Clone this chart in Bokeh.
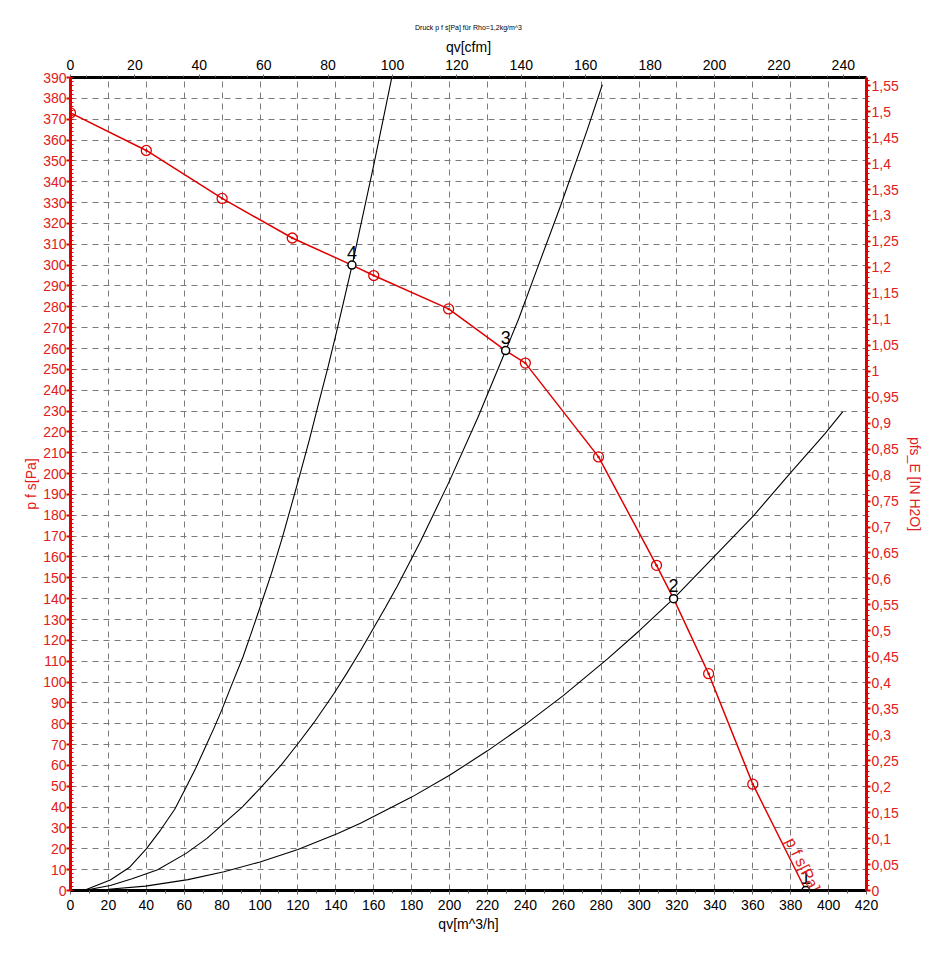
from bokeh.plotting import figure
from bokeh.models import Range1d, LinearAxis, FixedTicker, CustomJSTickFormatter
from bokeh.core.properties import value
from bokeh.embed import file_html
from bokeh.resources import INLINE

FONT = "Liberation Sans"
RED = "#e00000"
RED_TXT = "#e02020"

PA_PER_INH2O = 249.089
M3H_PER_CFM = 1.699

# fan curve p_fs [Pa] over qv [m^3/h]
fan_q = [0, 40, 80, 117, 148.5, 160, 199.5, 229.6, 240, 278.6, 309.2, 318.2, 336.7, 360, 388]
fan_p = [373, 355, 332, 313, 300, 295, 279, 259, 253, 208, 156, 140, 104, 51, 0]
# measured points (red circles)
meas_q = [0, 40, 80, 117, 160, 199.5, 240, 278.6, 309.2, 336.7, 360]
meas_p = [373, 355, 332, 313, 295, 279, 253, 208, 156, 104, 51]
# operating points
op_q = [388, 318.2, 229.6, 148.5]
op_p = [0, 140, 259, 300]
op_labels = ["1", "2", "3", "4"]

# system curves
sys4_q = [7, 21, 31, 40, 47.5, 55, 61, 66, 71, 76, 80, 85, 91, 95, 101, 106, 112, 120, 126, 131, 136, 140, 144, 148.6, 155, 160, 165, 169.4]
sys4_p = [0, 5, 11, 20, 29, 39, 49.5, 58.5, 68.5, 78.5, 87, 98.5, 112, 122.5, 138.5, 152, 170, 196, 216, 234, 251.5, 266.5, 282, 300, 327, 348, 370, 389.5]
sys3_q = [7, 21, 32.5, 46, 61, 72, 80, 90.6, 100, 111, 120.5, 128.4, 139, 146, 153, 166, 172.4, 184.7, 200, 215, 229.6, 236.6, 244.5, 258.6, 272.7, 280.6]
sys3_p = [0, 2.4, 5.6, 10, 17.8, 25, 31.5, 40, 49, 60, 71, 80.5, 94.5, 104.5, 115, 135.5, 146, 167.5, 196.5, 227, 259, 274.5, 294, 328.5, 365, 386.5]
sys2_q = [7, 20, 39.6, 62, 81, 100, 120, 141, 153, 180, 200, 220, 240, 260, 283.2, 300, 318.2, 339.5, 360.6, 380, 398, 407.4]
sys2_p = [0, 0.6, 2.1, 5.2, 9, 13.7, 19.7, 27.3, 32.3, 44.8, 55.3, 67, 79.7, 93.5, 111, 124.5, 140, 160, 180, 200.5, 219, 229.6]

pa_ticks = list(range(0, 391, 10))
pa_minor = list(range(0, 391, 2))
q_ticks = list(range(0, 421, 20))
q_minor = list(range(0, 421, 10))
cfm_ticks = list(range(0, 241, 20))
cfm_minor = list(range(0, 246, 5))
inh2o_ticks = [round(i * 0.05, 2) for i in range(32)]
inh2o_minor = [round(i * 0.01, 2) for i in range(157)]

p = figure(width=930, height=950, x_range=Range1d(0, 420), y_range=Range1d(0, 390),
           output_backend="svg", toolbar_location=None,
           min_border_left=70, min_border_right=64, min_border_top=77, min_border_bottom=60)
p.outline_line_color = None
p.background_fill_color = "white"

p.title.text = "Druck p f s[Pa] für Rho=1,2kg/m^3"
p.title.align = "center"
p.title.text_font = FONT
p.title.text_font_size = "7px"
p.title.text_font_style = "normal"
p.title.text_color = "black"

p.extra_x_ranges = {"cfm": Range1d(0, 420 / M3H_PER_CFM)}
p.extra_y_ranges = {"inh2o": Range1d(0, 390 / PA_PER_INH2O)}

def style_axis(ax, line_color, label_color, tick_color):
    ax.axis_line_color = line_color
    ax.axis_line_width = 3
    ax.major_tick_line_color = tick_color
    ax.minor_tick_line_color = tick_color
    ax.major_label_text_color = label_color
    ax.major_label_text_font = FONT
    ax.major_label_text_font_size = "14px"
    ax.axis_label_text_font = FONT
    ax.axis_label_text_font_size = "14px"
    ax.axis_label_text_font_style = "normal"
    ax.axis_label_text_color = label_color

# bottom axis
xb = p.xaxis[0]
xb.ticker = FixedTicker(ticks=q_ticks, minor_ticks=q_minor)
xb.axis_label = "qv[m^3/h]"
style_axis(xb, "black", "black", "#606060")
xb.major_tick_out = 4
xb.major_tick_in = 0
xb.minor_tick_out = 3
xb.minor_tick_in = 0
xb.major_label_standoff = 5
xb.axis_label_standoff = 3

# left axis
yl = p.yaxis[0]
yl.ticker = FixedTicker(ticks=pa_ticks, minor_ticks=pa_minor)
yl.axis_label = "p f s[Pa]"
style_axis(yl, RED, RED_TXT, RED)
yl.major_tick_out = 4
yl.major_tick_in = 0
yl.major_tick_line_width = 2
yl.minor_tick_out = 0
yl.minor_tick_in = 3
yl.major_label_standoff = 0
yl.axis_label_standoff = 1

# top axis
xt = LinearAxis(x_range_name="cfm", ticker=FixedTicker(ticks=cfm_ticks, minor_ticks=cfm_minor),
                axis_label="qv[cfm]")
style_axis(xt, "black", "black", "#606060")
xt.major_tick_out = 3
xt.major_tick_in = 0
xt.minor_tick_out = 2
xt.minor_tick_in = 0
xt.major_label_standoff = 5
xt.axis_label_standoff = 2
p.add_layout(xt, "above")

# right axis
yr = LinearAxis(y_range_name="inh2o", ticker=FixedTicker(ticks=inh2o_ticks, minor_ticks=inh2o_minor),
                axis_label="pfs_E [IN H2O]",
                formatter=CustomJSTickFormatter(code="return (Math.round(tick*100)/100).toString().replace('.', ',');"))
style_axis(yr, RED, RED_TXT, RED)
yr.major_tick_out = 4
yr.major_tick_in = 0
yr.major_tick_line_width = 2
yr.minor_tick_out = 3
yr.minor_tick_in = 0
yr.major_label_standoff = 1
yr.axis_label_standoff = 5
p.add_layout(yr, "right")

# grids
p.xgrid.ticker = FixedTicker(ticks=q_ticks)
p.ygrid.ticker = FixedTicker(ticks=pa_ticks)
for g in (p.xgrid[0], p.ygrid[0]):
    g.grid_line_color = "#7a7a7a"
    g.grid_line_dash = "6 5"
    g.grid_line_width = 1

# system curves
for qs, ps in ((sys4_q, sys4_p), (sys3_q, sys3_p), (sys2_q, sys2_p)):
    p.line(qs, ps, line_color="black", line_width=1.1)

# fan curve
p.line(fan_q, fan_p, line_color=RED, line_width=1.5)
p.scatter(meas_q, meas_p, marker="circle_dot", size=10, line_color=RED, fill_alpha=0, line_width=1.3)

# operating points
p.scatter(op_q, op_p, marker="circle", size=8, fill_color="white", line_color="black", line_width=1.5)
p.text(op_q, op_p, text=op_labels, y_offset=-13, text_align="center", text_baseline="middle",
       text_font=value(FONT), text_font_size="18px", text_color="black")

# curve label
p.text(x=[fan_q[-1]], y=[fan_p[-1]], text=["p f s[Pa]"], angle=-1.11, x_offset=-16, y_offset=-52,
       text_align="left", text_baseline="middle", text_font=value(FONT),
       text_font_size="16px", text_color=RED_TXT)

open("out.html", "w").write(file_html(p, INLINE))
